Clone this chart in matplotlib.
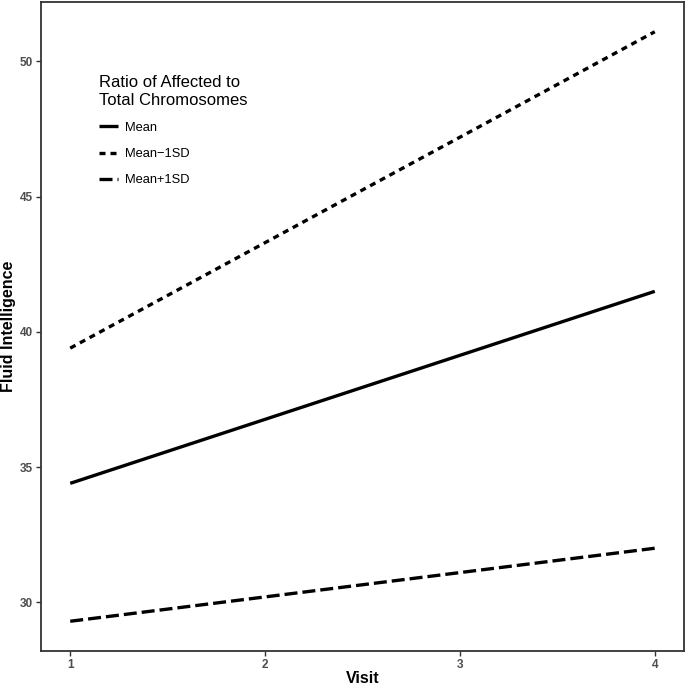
import numpy as np
import matplotlib.pyplot as plt

plt.rcParams['font.family'] = ['Liberation Sans', 'DejaVu Sans']

# values (endpoints of the fitted lines)
visits = [1, 4]
mean_vals = [34.4, 41.5]
minus_sd_vals = [39.4, 51.1]
plus_sd_vals = [29.3, 32.0]
labels = ['Mean', 'Mean\u22121SD', 'Mean+1SD']

fig = plt.figure(figsize=(6.85, 6.86), dpi=100)
ax = fig.add_axes([41 / 685, 35 / 686, 643 / 685, 649 / 686])

lw = 2.4
ax.plot(visits, mean_vals, color='black', lw=lw, solid_capstyle='butt', label=labels[0])
ax.plot(visits, minus_sd_vals, color='black', lw=lw, linestyle=(0, (1.8, 1.5)),
        dash_capstyle='butt', label=labels[1])
ax.plot(visits, plus_sd_vals, color='black', lw=lw, linestyle=(0, (3.9, 1.5)),
        dash_capstyle='butt', label=labels[2])

ax.set_xlim(0.85, 4.15)
ax.set_ylim(28.2, 52.2)
ax.set_xticks([1, 2, 3, 4])
ax.set_yticks([30, 35, 40, 45, 50])

for s in ax.spines.values():
    s.set_color('#333333')
    s.set_linewidth(1.3)
ax.tick_params(colors='#333333', labelcolor='#4D4D4D', labelsize=8.5, length=3.5,
               width=1, pad=2)
for t in ax.get_xticklabels() + ax.get_yticklabels():
    t.set_fontweight('bold')

ax.set_xlabel('Visit', fontsize=11.5, fontweight='bold', labelpad=0.5)
ax.set_ylabel('Fluid Intelligence', fontsize=11.5, fontweight='bold', labelpad=3)

leg = ax.legend(loc='upper left', bbox_to_anchor=(0.09, 0.887), frameon=False,
                title='Ratio of Affected to\nTotal Chromosomes', fontsize=9.3,
                title_fontsize=12, handlelength=1.5, handletextpad=0.55,
                labelspacing=1.1, borderpad=0, borderaxespad=0)
leg._legend_box.align = 'left'

fig.savefig('out.png', dpi=100)
